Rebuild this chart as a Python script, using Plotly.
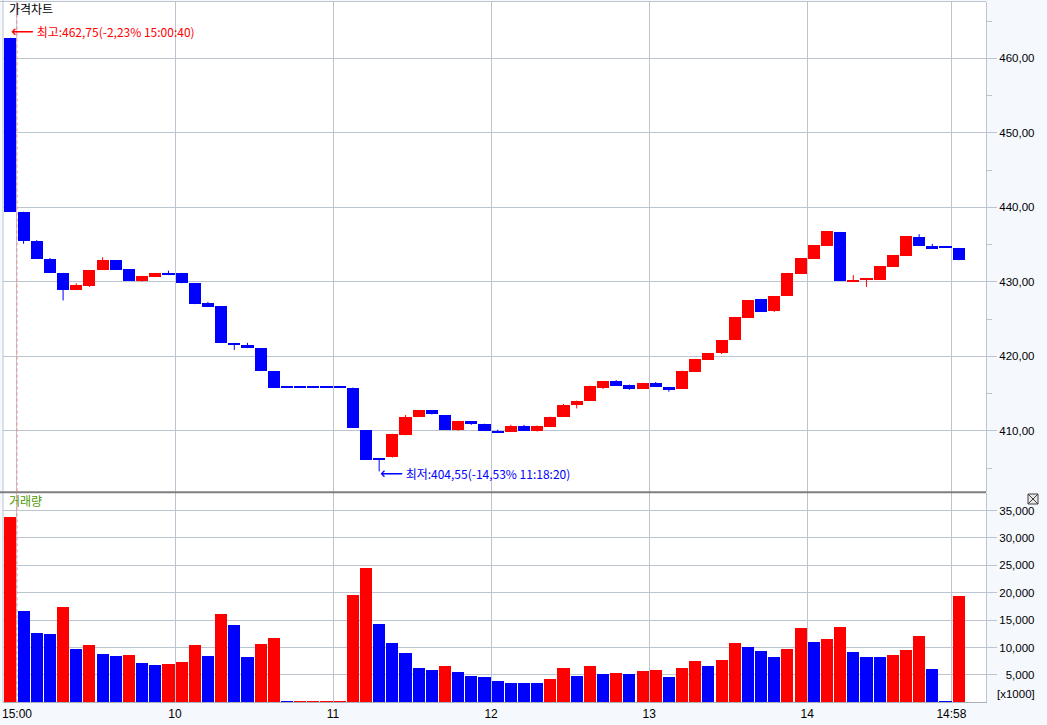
import plotly.graph_objects as go

# ---------------- data ----------------
bar_index = list(range(73))
open_ = [462.75, 439.4, 435.5, 433.1, 431.2, 428.9, 429.4, 431.6, 432.9, 431.7,
         430.15, 430.7, 431.2, 431.2, 429.8, 427.2, 426.7, 421.8, 421.5, 421.1,
         418.0, 415.8, 415.8, 415.8, 415.8, 415.8, 415.8, 410.1, 406.2, 406.5,
         409.4, 411.9, 412.8, 412.1, 410.15, 411.3, 410.95, 410.0, 409.9, 410.7,
         410.0, 410.55, 411.9, 413.4, 414.05, 415.75, 416.7, 416.2, 415.65, 416.45,
         415.9, 415.6, 417.9, 419.5, 420.45, 422.2, 425.2, 427.7, 426.1, 428.1,
         431.1, 433.1, 434.85, 436.7, 430.1, 430.3, 430.25, 432.0, 433.45, 436.0,
         434.8, 434.6, 434.55]
high = [462.75, 439.4, 435.6, 433.2, 431.2, 429.8, 431.6, 433.3, 432.9, 431.7,
        430.8, 431.2, 431.5, 431.2, 429.8, 427.3, 426.7, 421.8, 421.8, 421.1,
        418.0, 415.8, 415.8, 415.8, 415.8, 415.8, 415.8, 410.1, 406.2, 409.6,
        412.1, 412.8, 412.8, 412.1, 411.35, 411.3, 410.95, 410.15, 410.8, 410.8,
        410.7, 411.9, 413.6, 414.05, 416.05, 416.7, 416.8, 416.2, 416.45, 416.55,
        415.9, 418.07, 419.65, 420.45, 422.2, 425.3, 427.55, 427.7, 428.1, 431.2,
        433.2, 434.95, 436.8, 436.7, 430.9, 430.5, 432.1, 433.6, 436.15, 436.4,
        435.1, 434.6, 434.55]
low = [439.4, 435.1, 433.1, 431.2, 427.5, 428.9, 429.3, 431.6, 431.6, 430.15,
       430.0, 430.7, 430.9, 429.8, 427.0, 426.65, 421.8, 420.85, 421.1, 418.0,
       415.8, 415.8, 415.8, 415.8, 415.8, 415.8, 410.4, 406.1, 404.55, 406.4,
       409.4, 411.9, 412.2, 410.15, 410.0, 410.8, 410.0, 409.75, 409.9, 410.0,
       409.9, 410.55, 411.9, 413.0, 414.05, 415.6, 416.05, 415.5, 415.65, 415.9,
       415.25, 415.6, 417.9, 419.5, 420.3, 422.2, 425.2, 426.0, 425.95, 428.1,
       431.1, 433.1, 434.85, 430.1, 430.0, 429.3, 430.25, 432.0, 433.45, 434.8,
       434.4, 434.55, 432.9]
close = [439.4, 435.5, 433.1, 431.2, 428.9, 429.6, 431.6, 432.9, 431.6, 430.15,
         430.8, 431.2, 430.9, 429.8, 427.0, 426.65, 421.8, 421.5, 421.1, 418.0,
         415.8, 415.8, 415.8, 415.8, 415.8, 415.8, 410.4, 406.1, 406.1, 409.6,
         411.85, 412.8, 412.2, 410.15, 411.35, 410.9, 410.0, 409.75, 410.7, 410.0,
         410.7, 411.9, 413.5, 414.05, 416.05, 416.7, 416.05, 415.65, 416.45, 415.9,
         415.5, 418.07, 419.65, 420.45, 422.2, 425.3, 427.55, 426.0, 428.1, 431.2,
         433.2, 434.95, 436.8, 430.1, 430.3, 430.45, 432.1, 433.6, 436.15, 434.8,
         434.4, 434.55, 432.9]
volume = [33870, 16660, 12700, 12460, 17450, 9730, 10460, 8820, 8450, 8630,
          7170, 6810, 6990, 7350, 10460, 8450, 16110, 14100, 8270, 10640,
          11740, 180, 200, 200, 200, 200, 19580, 24510, 14350, 10880,
          9060, 6260, 5900, 6620, 5530, 4800, 4620, 3890, 3520, 3520,
          3520, 4250, 6260, 4800, 6620, 5170, 5350, 5170, 5710, 5900,
          4620, 6260, 7540, 6620, 7720, 10820, 10090, 9360, 8270, 9730,
          13560, 11000, 11550, 13740, 9180, 8270, 8270, 8630, 9540, 12100,
          6080, 200, 19400]

time_tick_pos = [0.5, 12.5, 24.5, 36.5, 48.5, 60.5, 71.45]
time_tick_text = ["15:00", "10", "11", "12", "13", "14", "14:58"]
price_ticks = [410, 420, 430, 440, 450, 460]
price_tick_text = ["410,00", "420,00", "430,00", "440,00", "450,00", "460,00"]
vol_ticks = [5000, 10000, 15000, 20000, 25000, 30000, 35000]
vol_tick_text = ["\u20075,000", "10,000", "15,000", "20,000", "25,000", "30,000", "35,000"]

high_label = "최고:462,75(-2,23% 15:00:40)"
low_label = "최저:404,55(-14,53% 11:18:20)"
high_idx, low_idx = 0, 28

# ---------------- styling ----------------
RED = "#ff0000"
BLUE = "#0000ff"
GRID = "#bcc5cf"
PANEL_BG = "#f5f8fd"
W, H = 1047, 725
NUM_FONT = "Liberation Sans, Arial, sans-serif"
KR_FONT = "Noto Sans CJK KR, sans-serif"

# layout geometry (pixels)
plot_left, plot_right = 3, 986
price_top, price_bot = 2, 491.5
vol_top, vol_bot = 493, 702.3

candle_colors = [RED if c > o else BLUE for o, c in zip(open_, close)]
vol_colors = []
for i, v in enumerate(volume):
    if i == 0 or v > volume[i - 1]:
        vol_colors.append(RED)
    elif v < volume[i - 1]:
        vol_colors.append(BLUE)
    else:
        vol_colors.append(vol_colors[-1])

body_base = [min(o, c) for o, c in zip(open_, close)]
body_h = [max(abs(c - o), 0.2) for o, c in zip(open_, close)]

fig = go.Figure()

# wicks
for col in (RED, BLUE):
    xs, ys = [], []
    for i in bar_index:
        if candle_colors[i] == col:
            xs += [i, i, None]
            ys += [low[i], high[i], None]
    fig.add_trace(go.Scatter(x=xs, y=ys, mode="lines", line=dict(color=col, width=1),
                             hoverinfo="skip", showlegend=False, xaxis="x", yaxis="y"))

# bodies
fig.add_trace(go.Bar(x=bar_index, y=body_h, base=body_base, width=0.92,
                     marker=dict(color=candle_colors, line=dict(width=0)),
                     showlegend=False, xaxis="x", yaxis="y"))

# volume
fig.add_trace(go.Bar(x=bar_index, y=volume, width=0.92,
                     marker=dict(color=vol_colors, line=dict(width=0)),
                     showlegend=False, xaxis="x2", yaxis="y2"))

xr = [(plot_left - 10.4) / 13.17, (plot_right - 10.4) / 13.17]
p_per_px = 1 / 7.45
price_range = [460 - (price_bot - 58.3) * p_per_px, 460 + (58.3 - price_top) * p_per_px]
vol_range = [0, (vol_bot - vol_top) * 182.5]

def py(px):
    return 1 - px / H

common_x = dict(range=xr, tickvals=time_tick_pos, ticktext=time_tick_text,
                showgrid=True, gridcolor=GRID, gridwidth=1, zeroline=False,
                domain=[plot_left / W, plot_right / W], fixedrange=True)

fig.update_layout(
    width=W, height=H,
    margin=dict(l=0, r=0, t=0, b=0),
    paper_bgcolor=PANEL_BG, plot_bgcolor="white",
    barmode="overlay", bargap=0,
    showlegend=False,
    xaxis=dict(**common_x, anchor="y", showticklabels=False, ticks=""),
    xaxis2=dict(**common_x, anchor="y2", matches="x", showticklabels=True, ticks="",
                tickfont=dict(family=NUM_FONT, size=12, color="#000"),
                showline=True, linecolor="#a8b0ba", linewidth=1),
    yaxis=dict(domain=[py(price_bot), py(price_top)], range=price_range, side="right",
               anchor="x", tickvals=price_ticks, ticktext=price_tick_text,
               showgrid=True, gridcolor=GRID, zeroline=False,
               ticks="outside", ticklen=10, tickcolor=GRID,
               minor=dict(dtick=5, ticks="outside", ticklen=5, tickcolor=GRID, showgrid=False),
               tickfont=dict(family=NUM_FONT, size=11.5, color="#000"),
               showline=True, linecolor=GRID, fixedrange=True),
    yaxis2=dict(domain=[py(vol_bot), py(vol_top)], range=vol_range, side="right",
                anchor="x2", tickvals=vol_ticks, ticktext=vol_tick_text,
                showgrid=True, gridcolor=GRID, zeroline=False,
                ticks="outside", ticklen=10, tickcolor=GRID,
                tickfont=dict(family=NUM_FONT, size=11.5, color="#000"),
                showline=True, linecolor=GRID, fixedrange=True),
)

shapes = []
# frame lines
shapes.append(dict(type="line", xref="paper", yref="paper", x0=0, x1=plot_right / W,
                   y0=py(1.5), y1=py(1.5), line=dict(color=GRID, width=1)))
shapes.append(dict(type="line", xref="paper", yref="paper", x0=plot_left / W, x1=plot_left / W,
                   y0=py(vol_bot), y1=py(0), line=dict(color=GRID, width=1)))
# panel separator
shapes.append(dict(type="line", xref="paper", yref="paper", x0=0, x1=plot_right / W,
                   y0=py(492.2), y1=py(492.2), line=dict(color="#7f7f7f", width=2)))
# day separator dashed line
for yr in ("y domain", "y2 domain"):
    shapes.append(dict(type="line", xref="x", yref=yr, x0=0.5, x1=0.5, y0=0, y1=1,
                       line=dict(color="#f08a8a", width=1, dash="3px,3px")))
# close box icon
bx0, bx1, by0, by1 = 1028, 1038, 494, 504
shapes.append(dict(type="rect", xref="paper", yref="paper", x0=bx0 / W, x1=bx1 / W,
                   y0=py(by1), y1=py(by0), line=dict(color="#404040", width=1),
                   fillcolor="#e8e8e8"))
shapes.append(dict(type="line", xref="paper", yref="paper", x0=bx0 / W, x1=bx1 / W,
                   y0=py(by1), y1=py(by0), line=dict(color="#404040", width=1)))
shapes.append(dict(type="line", xref="paper", yref="paper", x0=bx0 / W, x1=bx1 / W,
                   y0=py(by0), y1=py(by1), line=dict(color="#404040", width=1)))
fig.update_layout(shapes=shapes)

arrow = "<span style='font-family:DejaVu Sans;font-size:16px'>⟵</span>"
annotations = [
    dict(text="가격차트", xref="paper", yref="paper", x=7 / W, y=py(9), xanchor="left",
         yanchor="middle", showarrow=False, font=dict(family=KR_FONT, size=12, color="#000")),
    dict(text="거래량", xref="paper", yref="paper", x=7 / W, y=py(500), xanchor="left",
         yanchor="middle", showarrow=False, font=dict(family=KR_FONT, size=12, color="#4c9a00")),
    dict(text="[x1000]", xref="paper", yref="paper", x=1037 / W, y=py(694), xanchor="right",
         yanchor="middle", showarrow=False, font=dict(family=NUM_FONT, size=11.5, color="#000")),
    dict(text=arrow + " " + high_label, xref="x", yref="y", x=bar_index[high_idx], y=high[high_idx],
         xanchor="left", yanchor="middle", yshift=6, xshift=-1, showarrow=False,
         font=dict(family=KR_FONT, size=12, color=RED)),
    dict(text=arrow + " " + low_label, xref="x", yref="y", x=bar_index[low_idx], y=low[low_idx],
         xanchor="left", yanchor="middle", yshift=-2, xshift=-1, showarrow=False,
         font=dict(family=KR_FONT, size=12, color=BLUE)),
]
fig.update_layout(annotations=annotations)

fig.write_html("out.html", config={"displayModeBar": False},
               post_script="document.body.style.margin='0';document.body.style.overflow='hidden';")
